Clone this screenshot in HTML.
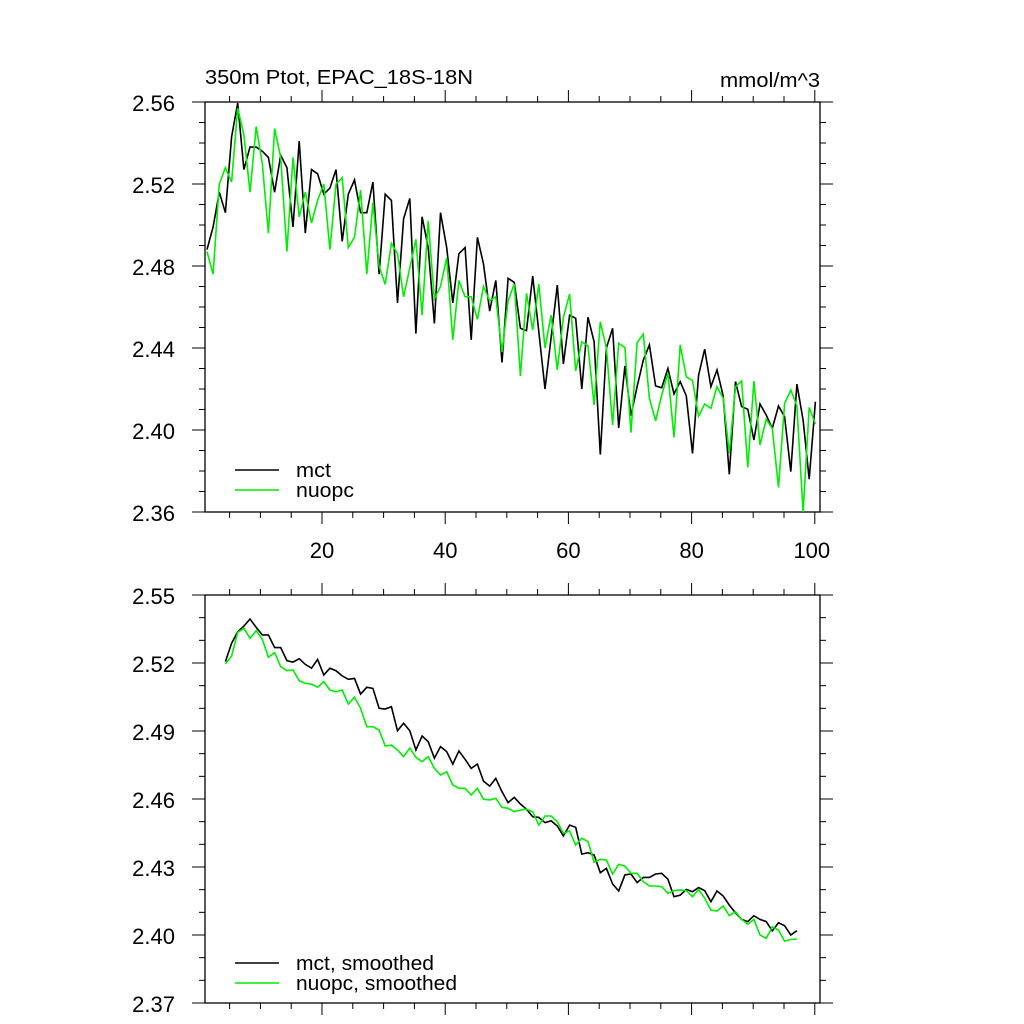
<!DOCTYPE html>
<html><head><meta charset="utf-8">
<style>
html,body{margin:0;padding:0;background:#fff;}
svg{display:block;font-family:"Liberation Sans",sans-serif;}
</style></head>
<body>
<svg id="chart" width="1024" height="1024" viewBox="0 0 1024 1024" xmlns="http://www.w3.org/2000/svg">
<text x="205" y="84" font-size="20" textLength="268" lengthAdjust="spacingAndGlyphs">350m Ptot, EPAC_18S-18N</text>
<text x="720" y="87" font-size="20" textLength="100" lengthAdjust="spacingAndGlyphs">mmol/m^3</text>
</svg>
<script>
const mctRaw = [2.488,2.499,2.516,2.506,2.543,2.5595,2.527,2.538,2.538,2.536,2.533,2.516,2.534,2.528,2.499,2.541,2.496,2.527,2.525,2.515,2.518,2.527,2.492,2.515,2.522,2.506,2.506,2.521,2.476,2.515,2.512,2.462,2.503,2.513,2.447,2.504,2.489,2.452,2.506,2.489,2.462,2.486,2.489,2.444,2.494,2.481,2.458,2.473,2.433,2.474,2.472,2.4496,2.4485,2.4751,2.448,2.420,2.445,2.4707,2.4322,2.456,2.4545,2.420,2.455,2.443,2.388,2.440,2.4496,2.401,2.4312,2.407,2.4211,2.4341,2.4415,2.4215,2.4206,2.430,2.4176,2.4236,2.4166,2.3886,2.4268,2.4394,2.4211,2.4293,2.4166,2.3784,2.4236,2.4114,2.4101,2.3951,2.4127,2.4073,2.4008,2.4117,2.4065,2.3797,2.4224,2.4049,2.376,2.4138];
const nuopcRaw = [2.487,2.476,2.520,2.528,2.521,2.557,2.544,2.516,2.548,2.530,2.496,2.547,2.533,2.487,2.533,2.504,2.516,2.501,2.512,2.520,2.488,2.520,2.523,2.489,2.494,2.517,2.476,2.511,2.480,2.471,2.491,2.486,2.465,2.479,2.493,2.456,2.502,2.464,2.470,2.484,2.444,2.473,2.465,2.465,2.454,2.470,2.463,2.465,2.438,2.463,2.4712,2.4263,2.4667,2.4488,2.4712,2.440,2.456,2.4293,2.455,2.4663,2.4289,2.443,2.441,2.4122,2.4528,2.440,2.4024,2.4423,2.4403,2.3987,2.4426,2.4468,2.4155,2.4045,2.417,2.4277,2.3964,2.4415,2.426,2.4241,2.4068,2.4127,2.4106,2.4211,2.4155,2.3886,2.4211,2.4239,2.3818,2.4239,2.3927,2.4052,2.4008,2.372,2.413,2.4195,2.4117,2.360,2.411,2.4029];
const smoothStart = 4;
const mctSmooth = [2.5206,2.5287,2.5338,2.5363,2.5394,2.5357,2.5324,2.5324,2.5268,2.5268,2.5210,2.5204,2.5219,2.5194,2.5177,2.5216,2.5147,2.5177,2.5166,2.5143,2.5128,2.5132,2.5063,2.5093,2.5088,2.5000,2.4997,2.5007,2.4901,2.4934,2.4901,2.4816,2.4878,2.4853,2.4780,2.4831,2.4809,2.4754,2.4812,2.4775,2.4735,2.4754,2.4679,2.4657,2.4691,2.4632,2.4584,2.4607,2.4578,2.4555,2.4522,2.4519,2.4496,2.4504,2.4481,2.4437,2.4485,2.4475,2.4357,2.4363,2.4353,2.4275,2.4294,2.4225,2.4194,2.4265,2.4269,2.4231,2.4254,2.4254,2.4269,2.4272,2.4246,2.4169,2.4176,2.4201,2.4191,2.4209,2.4196,2.4147,2.4194,2.4172,2.4132,2.4098,2.4069,2.4059,2.4085,2.4069,2.4059,2.4018,2.4054,2.4041,2.4000,2.4019];
const nuopcSmooth = [2.5196,2.5231,2.5335,2.5353,2.5309,2.5343,2.5305,2.5225,2.5246,2.5184,2.5166,2.5169,2.5122,2.5110,2.5107,2.5093,2.5118,2.5081,2.5073,2.5081,2.5019,2.5049,2.5000,2.4919,2.4919,2.4904,2.4834,2.4838,2.4816,2.4787,2.4824,2.4784,2.4765,2.4787,2.4735,2.4706,2.4720,2.4662,2.4647,2.4647,2.4618,2.4647,2.4599,2.4596,2.4603,2.4563,2.4559,2.4544,2.4551,2.4555,2.4544,2.4485,2.4525,2.4525,2.4500,2.4449,2.4459,2.4397,2.4427,2.4412,2.4321,2.4334,2.4331,2.4269,2.4312,2.4304,2.4272,2.4272,2.4235,2.4216,2.4216,2.4213,2.4184,2.4196,2.4199,2.4196,2.4169,2.4201,2.4162,2.4110,2.4106,2.4128,2.4085,2.4103,2.4069,2.4048,2.4069,2.4000,2.3985,2.4036,2.4022,2.3973,2.3980,2.3982];
const xTickLabels = [20,40,60,80,100];
const topYTicks = [2.36,2.40,2.44,2.48,2.52,2.56];
const botYTicks = [2.37,2.40,2.43,2.46,2.49,2.52,2.55];

const NS = 'http://www.w3.org/2000/svg';
const svg = document.getElementById('chart');
const L = 205, R = 820;
function xs(v){ return 322 + (v - 20) * 6.16; }
function dx(v){ return 207 + (v - 1) * 6.145; }
function mk(tag, attrs, parent){
  const e = document.createElementNS(NS, tag);
  for (const k in attrs) e.setAttribute(k, attrs[k]);
  (parent || svg).appendChild(e);
  return e;
}
function panel(name, top, bot, ymin, ymax, ticks, step, showXLabels){
  const g = mk('g', {});
  
  
  const ys = v => bot - (v - ymin) / (ymax - ymin) * (bot - top);
  const fr = mk('rect', {x:L, y:top, width:R-L, height:bot-top, fill:'none', stroke:'#000', 'stroke-width':1.3}, g);
  
  
  for (let v = 5; v <= 100; v += 5) {
    const major = v % 20 === 0;
    const len = major ? 12 : 6;
    const x = xs(v);
    mk('line', {x1:x, x2:x, y1:bot, y2:bot+len, stroke:'#000', 'stroke-width':1}, g);
    mk('line', {x1:x, x2:x, y1:top, y2:top-len, stroke:'#000', 'stroke-width':1}, g);
  }
  if (showXLabels) {
    xTickLabels.forEach(v => {
      const t = mk('text', {x:xs(v) - (v === 100 ? 3 : 0), y:bot+46, 'font-size':22, 'text-anchor':'middle'}, g);
      
      
      t.textContent = v;
    });
  }
  const n = Math.round((ymax - ymin) / step);
  for (let i = 0; i <= n; i++) {
    const v = ymin + i * step;
    const major = ticks.some(t => Math.abs(t - v) < 1e-6);
    const len = major ? 13 : 6;
    const y = ys(v);
    mk('line', {x1:L, x2:L-len, y1:y, y2:y, stroke:'#000', 'stroke-width':1}, g);
    mk('line', {x1:R, x2:R+len, y1:y, y2:y, stroke:'#000', 'stroke-width':1}, g);
  }
  ticks.forEach(v => {
    const t = mk('text', {x:175, y:ys(v)+9, 'font-size':22, 'text-anchor':'end'}, g);
    
    
    t.textContent = v.toFixed(2);
  });
  return {g, ys};
}
function series(p, data, start, color, name){
  const pts = data.map((v, i) => dx(start + i).toFixed(1) + ',' + p.ys(v).toFixed(1)).join(' ');
  const pl = mk('polyline', {points:pts, fill:'none', stroke:color, 'stroke-width':1.6, 'stroke-linejoin':'miter'}, p.g);
  
  
}
function legend(p, y, color, label, w, name){
  const lg = mk('g', {}, p.g);
  
  
  mk('line', {x1:235, x2:279, y1:y, y2:y, stroke:color, 'stroke-width':1.6}, lg);
  const t = mk('text', {x:296, y:y+7, 'font-size':20, textLength:w, lengthAdjust:'spacingAndGlyphs'}, lg);
  t.textContent = label;
}

const p1 = panel('top', 102, 512, 2.36, 2.56, topYTicks, 0.01, true);
series(p1, mctRaw, 1, '#000', 'mct-line');
series(p1, nuopcRaw, 1, '#00ee00', 'nuopc-line');
legend(p1, 470, '#000', 'mct', 35, 'legend-mct');
legend(p1, 490, '#00ee00', 'nuopc', 58, 'legend-nuopc');

const p2 = panel('bottom', 595, 1003, 2.37, 2.55, botYTicks, 0.01, false);
series(p2, mctSmooth, smoothStart, '#000', 'mct-smoothed-line');
series(p2, nuopcSmooth, smoothStart, '#00ee00', 'nuopc-smoothed-line');
legend(p2, 963, '#000', 'mct, smoothed', 138, 'legend-mct-smoothed');
legend(p2, 983, '#00ee00', 'nuopc, smoothed', 161, 'legend-nuopc-smoothed');
</script>
</body></html>
